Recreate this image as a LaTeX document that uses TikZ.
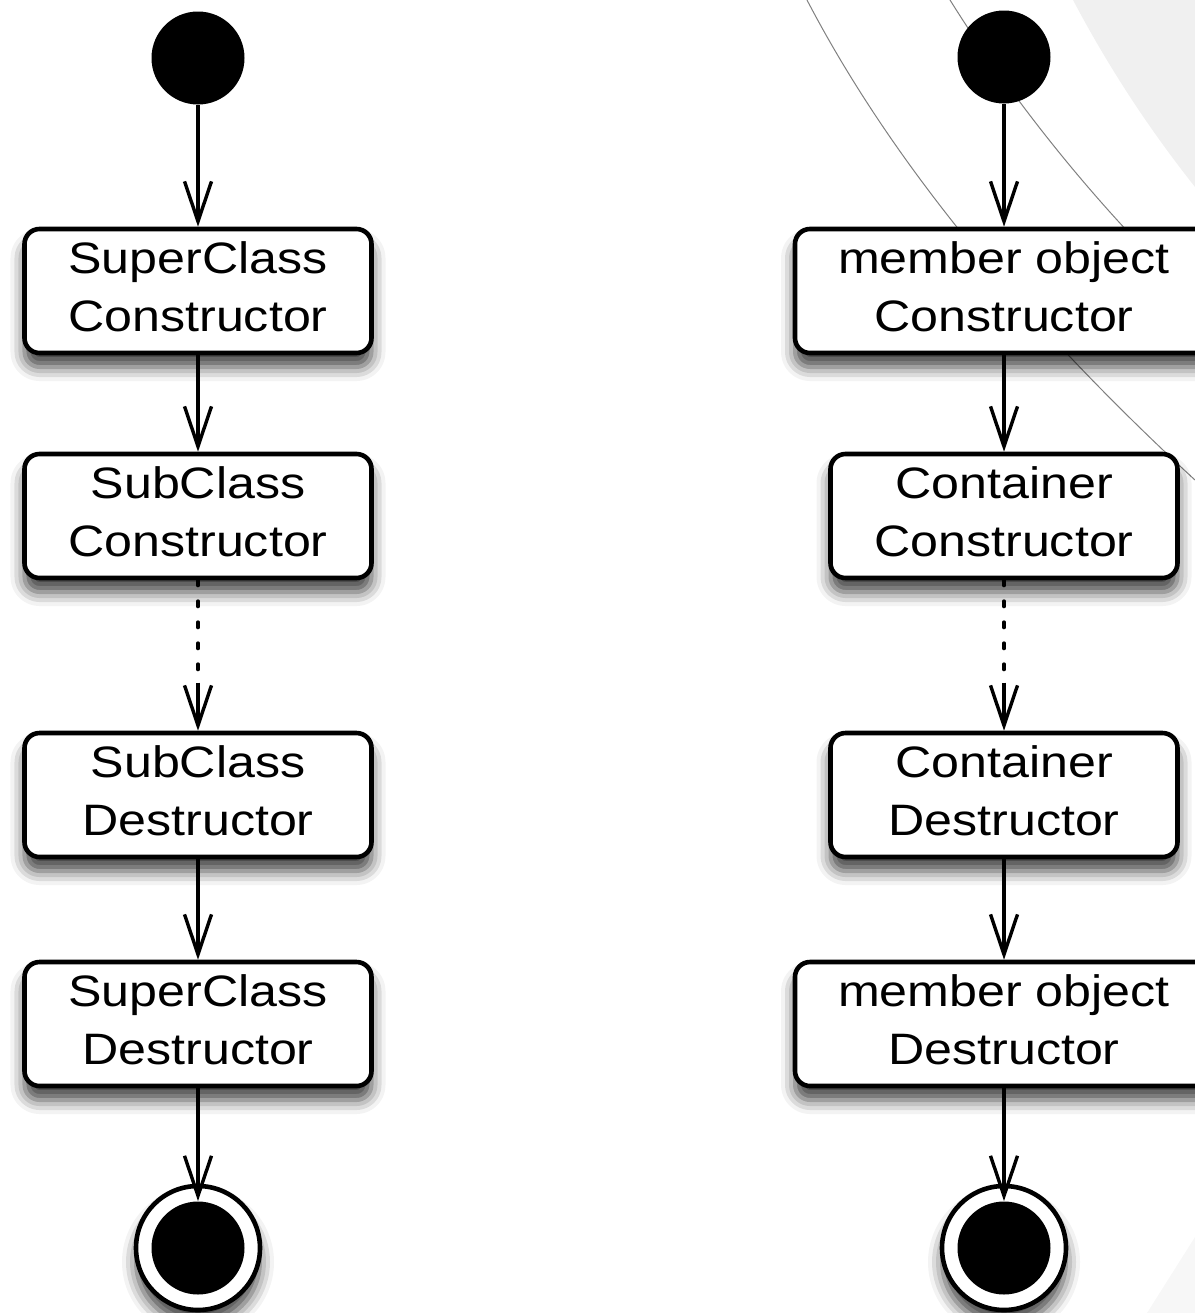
\documentclass[tikz,border=0pt]{standalone}
\usepackage{fontspec}
\setmainfont[FakeStretch=1.14]{Liberation Sans}
\usetikzlibrary{arrows.meta,shadows.blur}
\newcommand\twoline[2]{\begin{tabular}{@{}c@{}}#1\\#2\end{tabular}}
\begin{document}
\begin{tikzpicture}[x=0.5pt,y=-0.5pt,
  softshadow/.style={blur shadow={shadow xshift=0pt,shadow yshift=-7pt,shadow blur radius=7pt,shadow opacity=75}},
  actbox/.style={draw=black,line width=2.3pt,fill=white,rounded corners=7.5pt,
    minimum height=62pt,minimum width=173.5pt,inner sep=0pt,
    font=\fontsize{22pt}{29pt}\selectfont,softshadow},
  widebox/.style={actbox,minimum width=209pt},
  startdot/.style={circle,fill=black,minimum size=46.5pt,inner sep=0pt},
  endring/.style={circle,draw=black,line width=2.3pt,fill=white,minimum size=62pt,inner sep=0pt,softshadow},
  enddot/.style={circle,fill=black,minimum size=46.5pt,inner sep=0pt},
  flow/.style={line width=1.7pt,-{Straight Barb[length=20pt,width=13.5pt,line width=1.7pt]}},
  dotline/.style={line width=2pt,line cap=round,dash pattern=on 2.5pt off 8pt},
  deco/.style={draw=black!50,line width=0.5pt}
]
\useasboundingbox (0,0) rectangle (1195,1313);
% background decoration
\fill[black!6] (1073,0) .. controls (1110,70) and (1150,130) .. (1195,187) -- (1195,0) -- cycle;
\fill[black!3] (1147,1313) -- (1195,1237) -- (1195,1313) -- cycle;
\draw[deco] (807,0) .. controls (880,140) and (1000,300) .. (1195,480);
\draw[deco] (950,0) .. controls (1000,80) and (1080,190) .. (1195,300);

% left column
\node[startdot] (sL) at (198,58) {};
\node[actbox] (b1L) at (198,291) {\twoline{SuperClass}{Constructor}};
\node[actbox] (b2L) at (198,516) {\twoline{SubClass}{Constructor}};
\node[actbox] (b3L) at (198,795) {\twoline{SubClass}{Destructor}};
\node[actbox] (b4L) at (198,1024) {\twoline{SuperClass}{Destructor}};
\node[endring] (eL) at (198,1248) {};
\node[enddot] (eLi) at (198,1248) {};

% right column
\node[startdot] (sR) at (1004,57) {};
\node[widebox] (b1R) at (1004,291) {\twoline{member object}{Constructor}};
\node[actbox] (b2R) at (1004,516) {\twoline{Container}{Constructor}};
\node[actbox] (b3R) at (1004,795) {\twoline{Container}{Destructor}};
\node[widebox] (b4R) at (1004,1024) {\twoline{member object}{Destructor}};
\node[endring] (eR) at (1004,1248) {};
\node[enddot] (eRi) at (1004,1248) {};

% break points of the dotted connectors
\path (b2L.south) -- (b3L.north) coordinate[pos=0.68] (mL);
\path (b2R.south) -- (b3R.north) coordinate[pos=0.68] (mR);

% connectors
\draw[flow] (sL) -- (b1L);
\draw[flow] (b1L) -- (b2L);
\draw[dotline] (b2L) -- (mL);
\draw[flow] (mL) -- (b3L);
\draw[flow] (b3L) -- (b4L);
\draw[flow] (b4L) -- (eLi.north);

\draw[flow] (sR) -- (b1R);
\draw[flow] (b1R) -- (b2R);
\draw[dotline] (b2R) -- (mR);
\draw[flow] (mR) -- (b3R);
\draw[flow] (b3R) -- (b4R);
\draw[flow] (b4R) -- (eRi.north);
\end{tikzpicture}
\end{document}
